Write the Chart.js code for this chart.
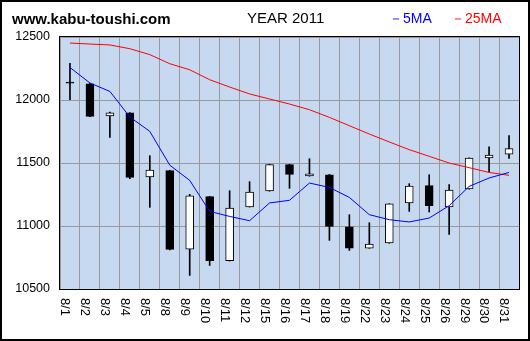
<!DOCTYPE html>
<html>
<head>
<meta charset="utf-8">
<script src="https://cdn.jsdelivr.net/npm/chart.js"></script>
<style>
  html, body { margin: 0; padding: 0; background: #fff; }
  #wrap { position: relative; width: 530px; height: 341px; overflow: hidden; }
  #frame { position: absolute; left: 0; top: 0; width: 530px; height: 341px; box-sizing: border-box; border: 2px solid #000; }
  .hd { position: absolute; white-space: nowrap; font-family: "Liberation Sans", Arial, sans-serif; line-height: 1; }
  #site { left: 12px; top: 11px; font-size: 15px; font-weight: bold; color: #000; }
  #year { left: 247px; top: 10px; font-size: 15px; color: #000; }
  #ma5 { left: 389px; top: 11px; font-size: 14px; color: #0000ff; }
  #ma25 { left: 451px; top: 11px; font-size: 14px; color: #ff0000; }
</style>
</head>
<body>
<div id="wrap">
  <canvas id="chart" width="530" height="341"></canvas>
  <div class="hd" id="site">www.kabu-toushi.com</div>
  <div class="hd" id="year">YEAR 2011</div>
  <div class="hd" id="ma5">－5MA</div>
  <div class="hd" id="ma25">－25MA</div>
  <div id="frame"></div>
</div>
<script>
// trading days, August 2011
const days = ['8/1','8/2','8/3','8/4','8/5','8/8','8/9','8/10','8/11','8/12','8/15','8/16','8/17','8/18','8/19','8/22','8/23','8/24','8/25','8/26','8/29','8/30','8/31'];

const open  = [12143, 12129, 11873, 11899, 11389, 11439, 10817, 11233, 10725, 11151, 11278, 11487, 11397, 11407, 10994, 10825, 10865, 11183, 11320, 11151, 11294, 11540, 11571];
const close = [12133, 11870, 11899, 11386, 11444, 10814, 11240, 10725, 11143, 11270, 11487, 11410, 11415, 10997, 10825, 10857, 11175, 11317, 11161, 11286, 11540, 11563, 11614];
const high  = [12291, 12132, 11905, 11900, 11558, 11442, 11251, 11235, 11280, 11352, 11490, 11490, 11534, 11410, 11090, 11026, 11177, 11336, 11407, 11328, 11542, 11629, 11717];
const low   = [12002, 11868, 11703, 11375, 11148, 10810, 10608, 10687, 10722, 11150, 11276, 11299, 11395, 10886, 10806, 10823, 10863, 11116, 11111, 10933, 11292, 11431, 11537];

const ma5  = [12258, 12135, 12068, 11865, 11751, 11483, 11362, 11116, 11076, 11042, 11183, 11204, 11341, 11306, 11227, 11090, 11050, 11032, 11063, 11161, 11314, 11381, 11425];
const ma25 = [12452, 12444, 12437, 12407, 12360, 12288, 12240, 12161, 12103, 12048, 12008, 11968, 11923, 11862, 11796, 11730, 11667, 11606, 11553, 11500, 11463, 11425, 11402];

const yTicks = [10500, 11000, 11500, 12000, 12500];

const bodies = days.map((d, i) => [open[i], close[i]]);
const wicks = days.map((d, i) => [low[i], high[i]]);
const bodyColors = days.map((d, i) => close[i] >= open[i] ? '#ffffff' : '#000000');

// plot background + frame, vertical date labels
const plotDeco = {
  id: 'plotDeco',
  beforeDraw(chart) {
    const a = chart.chartArea, ctx = chart.ctx;
    ctx.save();
    ctx.fillStyle = '#c6d9f0';
    ctx.fillRect(a.left, a.top, a.right - a.left, a.bottom - a.top);
    ctx.restore();
  },
  afterDraw(chart) {
    const a = chart.chartArea, ctx = chart.ctx;
    ctx.save();
    ctx.strokeStyle = '#000';
    ctx.lineWidth = 1;
    ctx.strokeRect(Math.round(a.left) - 0.5, Math.round(a.top) - 0.5, Math.round(a.right - a.left) + 1, Math.round(a.bottom - a.top) + 1);
    ctx.fillStyle = '#000';
    ctx.font = '13px "Liberation Sans", Arial, sans-serif';
    ctx.textAlign = 'left';
    ctx.textBaseline = 'middle';
    const xs = chart.scales.x;
    days.forEach((d, i) => {
      ctx.save();
      ctx.translate(xs.getPixelForValue(i) - 5, a.bottom + 9);
      ctx.rotate(Math.PI / 2);
      ctx.fillText(d, 0, 0);
      ctx.restore();
    });
    ctx.restore();
  }
};

new Chart(document.getElementById('chart'), {
  type: 'bar',
  data: {
    labels: days,
    datasets: [
      { type: 'line', label: '5MA', data: ma5, borderColor: '#0000ff', borderWidth: 1, pointRadius: 0, tension: 0, order: 0 },
      { type: 'line', label: '25MA', data: ma25, borderColor: '#ff0000', borderWidth: 1, pointRadius: 0, tension: 0, order: 0 },
      { label: 'body', data: bodies, backgroundColor: bodyColors, borderColor: '#000', borderWidth: 1, borderSkipped: false, barThickness: 8, grouped: false, order: 1 },
      { label: 'wick', data: wicks, backgroundColor: '#000', borderWidth: 0, barThickness: 1, grouped: false, order: 2 }
    ]
  },
  options: {
    responsive: false,
    animation: false,
    layout: { padding: { top: 37, right: 11, left: 0, bottom: 0 } },
    plugins: { legend: { display: false }, tooltip: { enabled: false } },
    scales: {
      x: {
        offset: true,
        grid: { color: '#999999', lineWidth: 1, drawTicks: false, offset: true },
        border: { display: false },
        ticks: { display: false },
        afterFit(s) { s.height = 52; }
      },
      y: {
        min: 10500,
        max: 12500,
        afterBuildTicks(s) { s.ticks = yTicks.map(v => ({ value: v })); },
        grid: { color: '#999999', lineWidth: 1, drawTicks: false },
        border: { display: false },
        ticks: {
          color: '#000',
          padding: 10,
          font: { family: '"Liberation Sans", Arial, sans-serif', size: 12.5 },
          callback: v => String(v)
        },
        afterFit(s) { s.width = 60; }
      }
    }
  },
  plugins: [plotDeco]
});
</script>
</body>
</html>
